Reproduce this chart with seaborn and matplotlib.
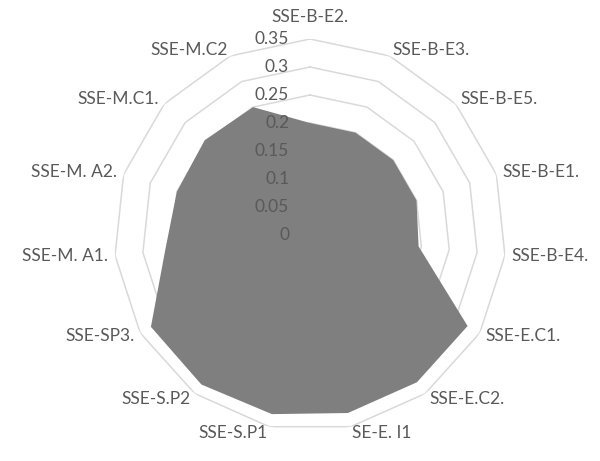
import numpy as np
import matplotlib
matplotlib.use("Agg")
import matplotlib.pyplot as plt
import seaborn as sns

categories = ["SSE-B-E2.", "SSE-B-E3.", "SSE-B-E5.", "SSE-B-E1.", "SSE-B-E4.",
              "SSE-E.C1.", "SSE-E.C2.", "SE-E. I1", "SSE-S.P1", "SSE-S.P2",
              "SSE-SP3.", "SSE-M. A1.", "SSE-M. A2.", "SSE-M.C1.", "SSE-M.C2"]
values = [0.20, 0.20, 0.20, 0.20, 0.195, 0.325, 0.325, 0.325, 0.327, 0.33,
          0.328, 0.26, 0.25, 0.253, 0.25]
rings = [0.05, 0.1, 0.15, 0.2, 0.25, 0.3, 0.35]
ring_labels = ["0", "0.05", "0.1", "0.15", "0.2", "0.25", "0.3", "0.35"]

sns.set_theme(style="white")
plt.rcParams["font.family"] = ["Lato", "DejaVu Sans"]

fig = plt.figure(figsize=(6, 4.61), dpi=100)
ax = fig.add_axes([114 / 600, 30 / 461, 392 / 600, 392 / 461], projection="polar")
ax.set_theta_offset(np.pi / 2)
ax.set_theta_direction(-1)
ax.set_ylim(0, 0.35)
ax.set_xticks([])
ax.set_yticks([])
ax.grid(False)
ax.spines["polar"].set_visible(False)
ax.set_facecolor("white")

n = len(categories)
angles = np.linspace(0, 2 * np.pi, n, endpoint=False)
closed = np.append(angles, angles[0])

# polygon rings like excel
for r in rings:
    ax.plot(closed, [r] * (n + 1), color="#d9d9d9", lw=1.1, zorder=1)

vals = np.append(values, values[0])
ax.fill(closed, vals, color="#7f7f7f", lw=0, zorder=2)

# category labels
for a, lab in zip(angles, categories):
    s = np.sin(a)
    if abs(s) < 0.05:
        ax.text(a, 0.375, lab, ha="center", va="bottom", fontsize=12.5,
                color="#595959", zorder=5)
    else:
        ax.text(a, 0.362, lab, ha="left" if s > 0 else "right", va="center",
                fontsize=12.5, color="#595959", zorder=5)

# radial labels
for r, lab in zip([0] + rings, ring_labels):
    ax.annotate(lab, (0, r), xytext=(-15, 0), textcoords="offset points",
                ha="right", va="center", fontsize=12.5, color="#595959",
                zorder=5, annotation_clip=False)

fig.savefig("out.png", dpi=100, facecolor="white")
